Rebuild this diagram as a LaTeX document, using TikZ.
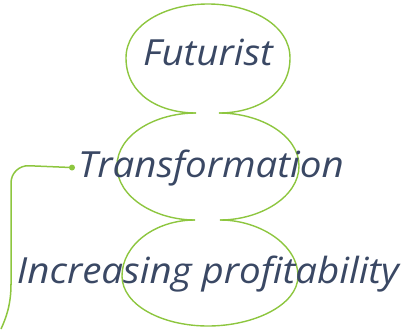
\documentclass[tikz,border=0pt]{standalone}
\usepackage{fontspec}
\setmainfont[FakeStretch=1.07]{Open Sans}
\definecolor{leafgreen}{RGB}{141,198,63}
\definecolor{slateink}{RGB}{58,72,100}
\begin{document}
\begin{tikzpicture}[x=1pt,y=-1pt,
					bubble/.style={draw=leafgreen,
					line width=1.4pt},
					wordnode/.style={anchor=base,
					inner sep=0pt,
					text=slateink,
					font=\fontsize{36}{40}\selectfont\itshape}
					]
\useasboundingbox (0,0) rectangle (401,329);

%bubble outlines
\draw[bubble] (196,113) .. controls (160,113) and (126,95) .. (126,58)
	.. controls (126,25) and (165,4) .. (208,4)
	.. controls (251,4) and (290,25) .. (290,58)
	.. controls (290,95) and (255,113) .. (219,113);
\draw[bubble] (196,113) .. controls (155,113) and (117,135) .. (117,166)
	.. controls (117,197) and (155,220) .. (195,220);
\draw[bubble] (219,113) .. controls (260,113) and (299,135) .. (299,166)
	.. controls (299,197) and (260,220) .. (220,220);
\draw[bubble] (195,220) .. controls (155,220) and (122,245) .. (122,276)
	.. controls (122,305) and (162,326) .. (208,326)
	.. controls (254,326) and (298,305) .. (298,276)
	.. controls (298,245) and (260,220) .. (220,220);

%labels
\node[wordnode] (futurist) at (208,66) {Futurist};
\node[wordnode] (transformation) at (211,177) {Transformation};
\node[wordnode] (profitability) at (208,283) {Increasing profitability};

%side connector
\coordinate (dot) at ([xshift=-6pt]transformation.west);
\coordinate (tail) at (1,329);
\fill[leafgreen] (dot) circle (3pt);
\draw[leafgreen, line width=1.5pt, rounded corners=18pt]
	(dot) -- (11,165) -- (11,285);
\draw[leafgreen, line width=1.5pt] (11,284) .. controls (11,305) and (6,318) .. (tail);
\end{tikzpicture}
\end{document}
